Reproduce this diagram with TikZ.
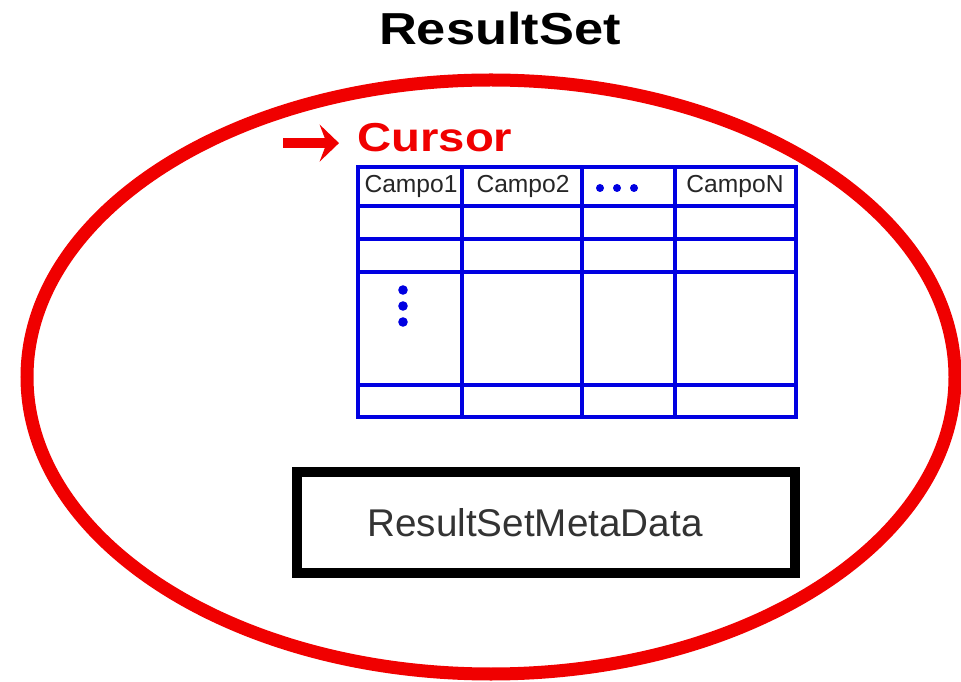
\documentclass[tikz,border=0pt]{standalone}
\usepackage{fontspec}
\setmainfont{Liberation Sans}
\newfontfamily\widefont[FakeStretch=1.17]{Liberation Sans}
\usetikzlibrary{calc,positioning,arrows.meta}
\definecolor{setred}{RGB}{240,0,0}
\definecolor{gridblue}{RGB}{0,0,225}
\tikzset{
   set border/.style={ draw=setred, line width=7.4pt},
   title/.style={ font=\widefont\bfseries\fontsize{25.5pt}{30pt}\selectfont, inner sep=0pt, anchor=base},
   cursor label/.style={ text=setred, font=\widefont\bfseries\fontsize{23pt}{27pt}\selectfont, inner sep=0pt, anchor=base west},
   cursor arrow/.style={ draw=setred, line width=5.5pt, -{Stealth[length=11pt,width=21pt,inset=4pt]}},
   grid line/.style={ draw=gridblue, line width=2.3pt},
   field/.style={ text=black!85, font=\fontsize{14pt}{16pt}\selectfont, inner sep=0pt, anchor=base},
   dot/.style={ fill=gridblue},
   meta box/.style={ rectangle, draw=black, line width=5.7pt, minimum width=9.96cm, minimum height=2.02cm},
   meta label/.style={ text=black!80, font=\fontsize{22pt}{26pt}\selectfont, inner sep=0pt, anchor=base}
}

\begin{document}
\begin{tikzpicture}[x=0.02cm,y=-0.02cm]
  \useasboundingbox (0,0) rectangle (961,682);

  \node[title] at (500,45) (resultset) {ResultSet};
  \draw[set border] (491,377) ellipse [x radius=464, y radius=297];

  \node[cursor label] at (357,152) (cursor) {Cursor};
  \coordinate (arrow tail) at ($(cursor.west)+(-74,5)$);
  \draw[cursor arrow] (arrow tail) -- ($(cursor.west)+(-18,5)$);

  % table of fields
  \draw[grid line] (358,167) rectangle (796,417);
  \foreach \x in {462,582,675} \draw[grid line] (\x,167) -- (\x,417);
  \foreach \y in {206,239,272,385} \draw[grid line] (358,\y) -- (796,\y);

  \node[field] at (411,193) (campo1) {Campo1};
  \node[field] at (523,193) (campo2) {Campo2};
  \node[field] at (735,193) (campoN) {CampoN};
  \foreach \x in {600,617,634} \fill[dot] (\x,188) circle (4);
  \foreach \y in {290,306,322} \fill[dot] (403,\y) circle (4.8);

  \node[meta box] at (546,522.5) (metadata) {};
  \node[meta label] at (535,537) (metadata label) {ResultSetMetaData};

\end{tikzpicture}
\end{document}
